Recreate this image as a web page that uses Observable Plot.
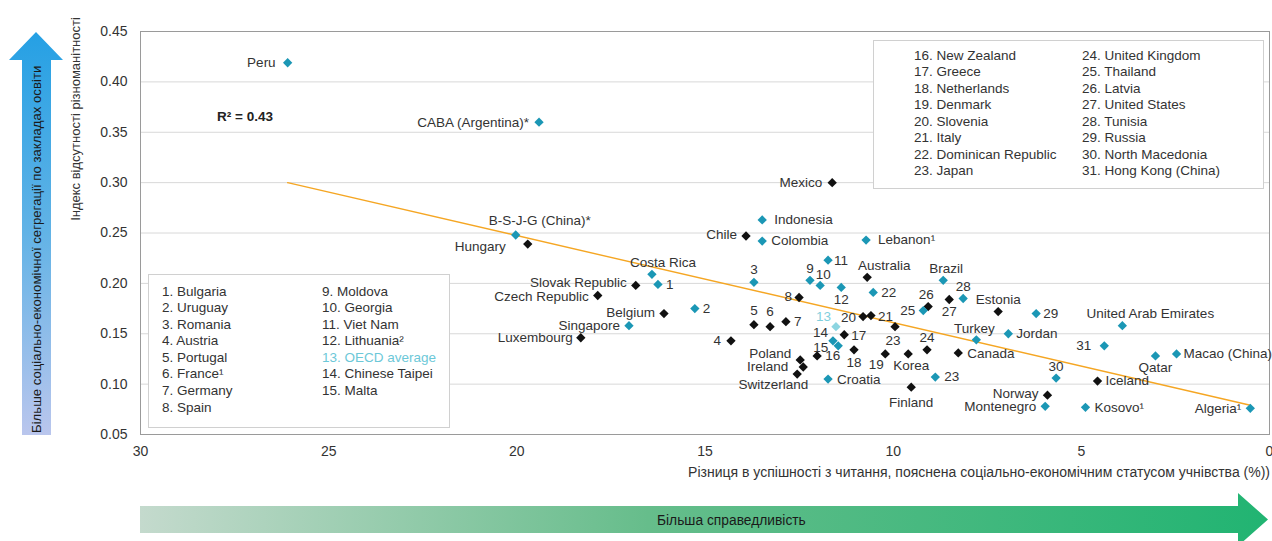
<!DOCTYPE html>
<html><head><meta charset="utf-8">
<script src="https://cdn.jsdelivr.net/npm/d3@7"></script>
<script src="https://cdn.jsdelivr.net/npm/@observablehq/plot@0.6"></script>
<style>
html,body{margin:0;padding:0;background:#fff;}
#chart{width:1272px;height:541px;overflow:hidden;}
</style>
</head><body><div id="chart"></div>
<script>
// ---------- data ----------
const labels = ["Peru","CABA (Argentina)*","Mexico","Indonesia","Chile","Colombia","Lebanon¹","B-S-J-G (China)*","Hungary","Costa Rica","1","Slovak Republic","Czech Republic","Belgium","Singapore","Luxembourg","2","3","4","5","6","7","8","9","10","11","12","13","14","15","16","17","18","19","20","21","22","23","Korea","24","Finland","23","25","26","Australia","Brazil","27","28","Estonia","29","Turkey","Jordan","Canada","30","Norway","Montenegro","Kosovo¹","Iceland","31","United Arab Emirates","Qatar","Macao (China)","Algeria¹","Poland","Ireland","Switzerland","Croatia"];
const xValues = [26.09,19.41,11.62,13.48,13.91,13.48,10.72,20.03,19.71,16.41,16.25,16.84,17.85,16.09,17.02,18.30,15.27,13.70,14.31,13.70,13.27,12.85,12.50,12.21,11.94,11.73,11.38,11.52,11.60,11.46,12.02,11.30,11.04,10.21,10.80,10.59,10.53,9.95,9.60,9.10,9.52,8.88,9.20,9.07,10.69,8.67,8.51,8.14,7.21,6.20,7.79,6.94,8.27,5.67,5.90,5.96,4.89,4.57,4.39,3.91,3.03,2.47,0.51,12.47,12.39,12.55,11.73];
const yValues = [0.419,0.360,0.300,0.263,0.247,0.242,0.243,0.248,0.239,0.209,0.199,0.198,0.188,0.170,0.158,0.146,0.175,0.201,0.143,0.159,0.157,0.162,0.186,0.203,0.198,0.223,0.196,0.157,0.143,0.138,0.128,0.149,0.134,0.130,0.167,0.168,0.191,0.157,0.130,0.134,0.097,0.107,0.173,0.177,0.206,0.203,0.184,0.185,0.172,0.170,0.144,0.150,0.131,0.106,0.089,0.078,0.077,0.103,0.138,0.158,0.128,0.130,0.076,0.124,0.117,0.110,0.105];
// O = OECD country, P = partner economy, A = OECD average
const groups = ["P","P","O","P","O","P","P","P","O","P","P","O","O","O","P","O","P","P","O","O","O","O","O","P","P","P","P","A","P","P","O","O","O","O","O","O","P","O","O","O","O","P","P","O","O","P","O","P","O","P","P","P","O","P","O","P","P","O","P","P","P","P","P","O","O","O","P"];

const trendX = [26.09, 0.51];
const trendY = [0.300, 0.079];
const rSquared = "R² = 0.43";

const xTicks = [30,25,20,15,10,5,0];
const yTicks = [0.05,0.10,0.15,0.20,0.25,0.30,0.35,0.40,0.45];

const legendA = ["1. Bulgaria","2. Uruguay","3. Romania","4. Austria","5. Portugal","6. France¹","7. Germany","8. Spain"];
const legendB = ["9. Moldova","10. Georgia","11. Viet Nam","12. Lithuania²","13. OECD average","14. Chinese Taipei","15. Malta"];
const legendC = ["16. New Zealand","17. Greece","18. Netherlands","19. Denmark","20. Slovenia","21. Italy","22. Dominican Republic","23. Japan"];
const legendD = ["24. United Kingdom","25. Thailand","26. Latvia","27. United States","28. Tunisia","29. Russia","30. North Macedonia","31. Hong Kong (China)"];

const yTitle = "Індекс відсутності різноманітності";
const xTitle = "Різниця в успішності з читання, пояснена соціально-економічним статусом учнівства (%))";
const sideArrowText = "Більше соціально-економічної сегрегації по закладах освіти";
const bottomArrowText = "Більша справедливість";

// ---------- label layout (anchor, dx, dy), aligned with labels ----------
const placement = [
["end",-12,0],["end",-10,0],["end",-10,0],["start",12,0],["end",-9,-1],["start",9,0],["start",12,0],
["middle",24,-14],["end",-22,3],["middle",11,-12],["start",8,0],["end",-9,-3],["end",-9,1],["end",-9,-1],
["end",-9,0],["end",-8,0],["start",8,0],["middle",0,-13],["end",-10,0],["middle",0,-14],["middle",0,-15],
["start",8,0],["end",-7,-1],["middle",0,-12],["middle",3,-11],["start",6,0],["middle",0,12],["end",-5,-10],
["end",-5,-8],["end",-10,2],["start",8,0],["start",7,1],["middle",0,13],["middle",-9,11],["end",-7,1],
["start",7,1],["start",8,0],["middle",-2,14],["middle",3,12],["middle",0,-12],["middle",0,16],["start",9,0],
["end",-8,0],["middle",-2,-12],["middle",17,-12],["middle",3,-12],["middle",0,12],["middle",0,-12],["middle",0,-12],
["start",7,0],["middle",-2,-11],["start",8,0],["start",9,1],["middle",0,-11],["end",-9,-2],["end",-9,0],
["start",9,0],["start",8,0],["end",-13,0],["middle",28,-12],["middle",0,12],["start",7,0],["end",-9,0],
["end",-9,-6],["end",-15,0],["end",11,11],["start",9,1]
];

const FONT = "'Liberation Sans', Arial, Helvetica, sans-serif";
const COL = {O:"#111111", P:"#1b97b5", A:"#8dd5e1"};

const data = labels.map((t,i)=>({label:t, x:xValues[i], y:yValues[i], g:groups[i], i}));
const trend = trendX.map((x,i)=>({x, y:trendY[i]}));

const labelMarks = data.map((d)=>{
  const [a,dx,dy] = placement[d.i];
  return Plot.text([d], {x:"x", y:"y", text:"label", textAnchor:a, dx, dy,
    fill: d.g==="A" ? "#7fcfdd" : "#333", fontSize:13.5});
});

const plot = Plot.plot({
  width:1272, height:541,
  marginLeft:140, marginRight:3, marginTop:31, marginBottom:107,
  style:{fontFamily:FONT, fontSize:"14px", color:"#333", background:"#fff"},
  x:{domain:[30,0], ticks:xTicks, tickSize:0, tickPadding:12, label:null},
  y:{domain:[0.05,0.45], ticks:yTicks, tickSize:0, tickPadding:13, tickFormat:d3.format(".2f"), label:null},
  marks:[
    Plot.ruleY(yTicks, {stroke:"#d8d8d8", strokeWidth:1}),
    Plot.frame({stroke:"#9a9a9a"}),
    Plot.line(trend, {x:"x", y:"y", stroke:"#f5a623", strokeWidth:1.4}),
    Plot.dot(data.filter(d=>d.g==="O"), {x:"x", y:"y", symbol:"diamond2", r:4.2, fill:COL.O, stroke:"none"}),
    Plot.dot(data.filter(d=>d.g==="P"), {x:"x", y:"y", symbol:"diamond2", r:4.2, fill:COL.P, stroke:"none"}),
    Plot.dot(data.filter(d=>d.g==="A"), {x:"x", y:"y", symbol:"diamond2", r:4.2, fill:COL.A, stroke:"none"}),
    ...labelMarks
  ]
});
document.getElementById("chart").appendChild(plot);

// ---------- decorations ----------
const svg = d3.select(plot);
const defs = svg.append("defs");
const gb = defs.append("linearGradient").attr("id","gBlue").attr("x1",0).attr("y1",0).attr("x2",0).attr("y2",1);
gb.append("stop").attr("offset","0%").attr("stop-color","#25a0e4");
gb.append("stop").attr("offset","50%").attr("stop-color","#62b3e6");
gb.append("stop").attr("offset","100%").attr("stop-color","#bac6ed");
const gg = defs.append("linearGradient").attr("id","gGreen").attr("x1",0).attr("y1",0).attr("x2",1).attr("y2",0);
gg.append("stop").attr("offset","0%").attr("stop-color","#c4dacd");
gg.append("stop").attr("offset","45%").attr("stop-color","#66bd8b");
gg.append("stop").attr("offset","100%").attr("stop-color","#21b472");

function txt(){ return svg.append("text").attr("font-family",FONT); }

// left blue arrow
svg.append("path").attr("d","M22,435 L22,60 L9,60 L36,32 L63,60 L51,60 L51,435 Z").attr("fill","url(#gBlue)");
txt().attr("transform","translate(36,433) rotate(-90)").attr("dy","0.35em")
  .attr("text-anchor","start").attr("font-size","13.2px").attr("fill","#1a1a1a").text(sideArrowText);

// y title
txt().attr("transform","translate(75,119) rotate(-90)").attr("dy","0.35em")
  .attr("text-anchor","middle").attr("font-size","13px").attr("fill","#333").text(yTitle);

// x title
txt().attr("x",1270).attr("y",472).attr("dy","0.35em").attr("text-anchor","end")
  .attr("font-size","14px").attr("fill","#333").text(xTitle);

// bottom green arrow
svg.append("path").attr("d","M140,506 L1238,506 L1238,493 L1268,519.5 L1238,546 L1238,533 L140,533 Z").attr("fill","url(#gGreen)");
txt().attr("x",657).attr("y",520).attr("dy","0.35em").attr("text-anchor","start")
  .attr("font-size","13.8px").attr("fill","#1a1a1a").text(bottomArrowText);

// R squared
txt().attr("x",217).attr("y",116).attr("dy","0.35em").attr("text-anchor","start")
  .attr("font-size","13.5px").attr("font-weight","bold").attr("fill","#222").text(rSquared);

// legend boxes
function box(x,y,w,h){
  svg.append("rect").attr("x",x+0.5).attr("y",y+0.5).attr("width",w).attr("height",h)
    .attr("fill","#fff").attr("stroke","#d0d0d0").attr("stroke-width",1);
}
function column(items,x,y0,step){
  items.forEach((t,i)=>{
    txt().attr("x",x).attr("y",y0+i*step).attr("dy","0.35em").attr("text-anchor","start")
      .attr("font-size","13.5px").attr("fill", t.startsWith("13.") ? "#6cc8d8" : "#333").text(t);
  });
}
box(148,274,301,153);
column(legendA,162,291,16.55);
column(legendB,322,291,16.55);
box(873,40,390,148);
column(legendC,914,55,16.5);
column(legendD,1082,55,16.5);
</script>
</body></html>
